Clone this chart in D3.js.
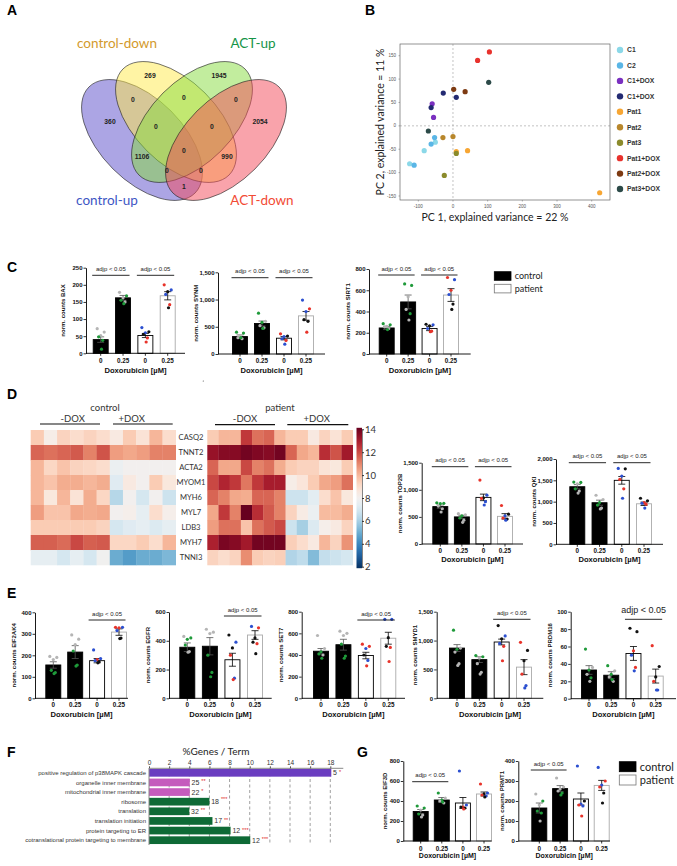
<!DOCTYPE html>
<html><head><meta charset="utf-8">
<script src="https://cdn.jsdelivr.net/npm/d3@7"></script>
<style>body{margin:0;background:#fff} svg{display:block}</style>
</head><body>
<svg id="fig" width="677" height="866"></svg>
<script>
// ---------------- DATA ----------------
const panelLetters = ["A","B","C","D","E","F","G"];

// Venn (panel A)
const vennSetNames = ["control-up","control-down","ACT-up","ACT-down"];
const vennCounts = [360,269,1945,2054, 0,0,0, 0,0, 1106,0,990, 0,0, 1];

// PCA (panel B)
const pcaGroups = ["C1","C2","C1+DOX","C1+DOX","Pat1","Pat2","Pat3","Pat1+DOX","Pat2+DOX","Pat3+DOX"];
const pcaPC1 = [[-83,-125,-51],[-112,-63,-53],[-60,-56],[-28,9.5,-63],[9.5,42,423],[-29,0],[9.5,-25],[105,71],[2,35],[103,-71]];
const pcaPC2 = [[-53,-81,-35],[-84,-39,-25],[47,18],[70,61,39],[-55,-53,-143],[-25,-23],[-59,-106],[158,140],[78,73],[93,-11]];
const pcaXTicks = [-100,0,100,200,300,400];
const pcaYTicks = [-150,-100,-50,0,50,100,150];

// Bar charts
const doseLabels = ["0","0.25","0","0.25"];
const groupLegend = ["control","patient"];

const BAX_mean = [40,162,52,168], BAX_sem = [8,7,6,12];
const BAX_pts = [[[72,"s"],[62,"s"],[52,"s"],[48,"g"],[38,"g"],[12,"g"]],[[178,"s"],[168,"g"],[162,"s"],[155,"g"],[150,"s"],[145,"g"]],[[75,"b"],[63,"k"],[60,"b"],[55,"k"],[45,"r"],[33,"r"]],[[200,"r"],[185,"b"],[180,"k"],[172,"b"],[142,"r"],[133,"k"]]];
const BAX_ticks = [0,50,100,150,200,250];

const SYNM_mean = [320,560,290,700], SYNM_sem = [30,45,30,80];
const SYNM_pts = [[[400,"g"],[385,"g"],[330,"s"],[300,"s"],[280,"s"],[300,"g"]],[[750,"g"],[600,"s"],[580,"g"],[520,"s"],[480,"s"],[470,"g"]],[[370,"r"],[330,"k"],[320,"b"],[280,"b"],[250,"r"],[180,"b"]],[[990,"b"],[830,"r"],[780,"b"],[630,"k"],[600,"k"],[400,"r"]]];
const SYNM_ticks = [0,500,1000,1500];

const SIRT1_mean = [245,490,240,555], SIRT1_sem = [15,65,20,60];
const SIRT1_pts = [[[285,"g"],[275,"g"],[260,"s"],[255,"s"],[240,"s"],[230,"g"]],[[660,"g"],[645,"g"],[540,"s"],[420,"s"],[380,"g"],[320,"s"]],[[280,"k"],[275,"b"],[265,"k"],[240,"b"],[215,"r"],[210,"r"]],[[720,"r"],[700,"b"],[600,"r"],[560,"b"],[470,"k"],[420,"k"]]];
const SIRT1_ticks = [0,200,400,600,800];

const TOP2B_mean = [690,500,860,510], TOP2B_sem = [30,30,60,50];
const TOP2B_pts = [[[760,"g"],[750,"g"],[745,"g"],[700,"s"],[650,"s"],[590,"s"]],[[560,"s"],[540,"s"],[520,"g"],[480,"g"],[440,"s"],[400,"s"]],[[1180,"r"],[900,"b"],[850,"k"],[840,"r"],[780,"b"],[720,"b"]],[[710,"r"],[550,"k"],[520,"b"],[480,"r"],[460,"k"],[440,"b"]]];
const TOP2B_ticks = [0,500,1000,1500];

const QKI_mean = [1350,975,1500,950], QKI_sem = [50,60,90,40];
const QKI_pts = [[[1460,"g"],[1450,"g"],[1420,"s"],[1300,"g"],[1250,"s"],[1200,"s"]],[[1150,"s"],[1050,"s"],[980,"g"],[920,"g"],[850,"s"],[830,"s"]],[[1780,"b"],[1770,"k"],[1600,"b"],[1520,"r"],[1300,"r"],[1080,"b"]],[[1080,"k"],[1020,"k"],[980,"r"],[960,"b"],[940,"r"],[850,"b"]]];
const QKI_ticks = [0,500,1000,1500,2000];

const EIF2AK4_mean = [155,215,175,308], EIF2AK4_sem = [15,30,10,15];
const EIF2AK4_pts = [[[195,"s"],[190,"s"],[180,"s"],[130,"g"],[120,"g"],[115,"g"]],[[295,"s"],[275,"s"],[250,"s"],[220,"g"],[155,"g"],[150,"g"]],[[225,"b"],[185,"b"],[180,"r"],[175,"b"],[170,"k"],[165,"k"]],[[330,"r"],[330,"b"],[328,"r"],[315,"b"],[280,"k"],[278,"k"]]];
const EIF2AK4_ticks = [0,100,200,300,400];

const EGFR_mean = [355,362,268,440], EGFR_sem = [30,60,45,30];
const EGFR_pts = [[[430,"s"],[420,"g"],[410,"g"],[370,"g"],[325,"s"],[320,"s"]],[[480,"s"],[460,"s"],[450,"s"],[300,"g"],[180,"g"],[150,"g"]],[[440,"k"],[390,"b"],[350,"k"],[300,"r"],[140,"b"],[130,"r"]],[[500,"b"],[490,"r"],[420,"k"],[390,"k"],[380,"r"],[310,"k"]]];
const EGFR_ticks = [0,200,400,600];

const SET7_mean = [435,495,395,555], SET7_sem = [25,50,30,55];
const SET7_pts = [[[580,"s"],[460,"s"],[430,"g"],[410,"g"],[400,"s"],[370,"g"]],[[620,"s"],[600,"s"],[580,"s"],[500,"g"],[390,"g"],[370,"g"]],[[500,"r"],[480,"r"],[460,"b"],[400,"k"],[350,"b"],[300,"r"]],[[730,"b"],[730,"b"],[560,"k"],[480,"k"],[470,"r"],[340,"r"]]];
const SET7_ticks = [0,200,400,600,800];

const SMYD1_mean = [870,670,975,540], SMYD1_sem = [60,50,50,130];
const SMYD1_pts = [[[1180,"g"],[870,"s"],[850,"g"],[800,"s"],[600,"s"],[570,"s"]],[[740,"g"],[720,"g"],[700,"s"],[600,"s"],[450,"s"],[420,"s"]],[[1260,"k"],[1080,"b"],[1030,"k"],[950,"b"],[900,"r"],[650,"r"]],[[970,"r"],[830,"k"],[650,"k"],[420,"r"],[220,"b"],[180,"b"]]];
const SMYD1_ticks = [0,500,1000,1500];

const PRDM16_mean = [33,27,52,26], PRDM16_sem = [5,4,8,8];
const PRDM16_pts = [[[57,"g"],[36,"s"],[33,"g"],[28,"s"],[24,"g"],[20,"s"]],[[38,"g"],[32,"s"],[28,"g"],[25,"s"],[20,"s"],[22,"g"]],[[81,"k"],[77,"k"],[55,"r"],[50,"b"],[36,"r"],[32,"b"]],[[61,"r"],[37,"k"],[25,"k"],[20,"r"],[10,"b"],[10,"b"]]];
const PRDM16_ticks = [0,20,40,60,80,100];

const EIF3D_mean = [295,410,380,470], EIF3D_sem = [20,25,55,20];
const EIF3D_pts = [[[350,"g"],[330,"g"],[310,"s"],[270,"g"],[260,"s"],[240,"s"]],[[480,"g"],[430,"s"],[410,"g"],[400,"s"],[380,"s"],[390,"g"]],[[700,"b"],[360,"b"],[340,"r"],[340,"k"],[330,"k"],[320,"r"]],[[570,"r"],[480,"b"],[470,"k"],[460,"r"],[450,"b"],[440,"k"]]];
const EIF3D_ticks = [0,200,400,600,800];

const PRMT1_mean = [165,262,210,278], PRMT1_sem = [25,15,30,25];
const PRMT1_pts = [[[235,"s"],[200,"g"],[180,"s"],[150,"g"],[140,"g"],[100,"s"]],[[315,"s"],[270,"s"],[260,"s"],[250,"s"],[240,"g"],[230,"g"]],[[375,"b"],[200,"k"],[185,"b"],[180,"r"],[175,"b"],[125,"r"]],[[368,"b"],[300,"r"],[280,"b"],[270,"r"],[240,"k"],[190,"k"]]];
const PRMT1_ticks = [0,100,200,300,400];

// Heatmap (panel D)
const heatGenes = ["CASQ2","TNNT2","ACTA2","MYOM1","MYH6","MYL7","LDB3","MYH7","TNNI3"];
const controlHeat = [
 [9.5,8.3,9.3,9.0,9.3,9.0, 8.5,9.5,8.8,10.0,9.0],
 [11.5,11.3,11.5,11.7,11.0,11.8, 10.5,10.3,10.5,11.0,11.0],
 [10.0,9.2,9.7,9.3,9.2,9.0, 7.7,8.0,8.0,8.0,8.0],
 [10.0,9.7,10.2,10.2,10.0,10.2, 7.3,8.5,8.0,9.5,8.6],
 [10.0,8.6,10.0,8.8,10.2,9.2, 6.3,8.0,7.0,8.0,6.8],
 [10.5,9.7,9.7,10.3,10.2,10.3, 8.0,8.2,7.5,9.0,8.2],
 [9.5,9.5,9.5,9.5,9.5,9.3, 7.0,7.3,7.5,7.2,7.5],
 [11.6,11.6,11.4,12.0,11.6,11.7, 9.2,9.2,9.5,9.0,10.0],
 [7.5,7.5,7.0,7.5,7.0,7.9, 5.0,4.6,5.0,5.0,5.3]];
const patientHeat = [
 [9.5,10.0,10.0,12.3,11.3,11.5,10.0, 9.5,9.5,8.5,9.3,8.8,9.5],
 [13.2,13.5,13.5,13.8,13.6,13.5,13.8, 11.5,10.3,10.0,12.5,11.8,13.0],
 [11.5,10.3,10.3,12.0,11.0,11.3,10.2, 9.5,9.3,9.3,8.8,8.6,9.5],
 [12.0,12.7,12.3,11.2,12.3,12.9,12.9, 8.3,8.7,9.5,10.3,10.5,11.3],
 [11.5,11.0,10.3,10.2,11.5,11.5,11.0, 6.8,6.8,7.4,9.0,9.7,8.6],
 [10.3,12.3,11.0,14.0,12.5,11.7,11.0, 9.3,8.4,7.7,9.9,9.9,10.2],
 [10.5,11.3,11.3,9.7,11.3,11.7,12.0, 6.8,6.0,7.2,8.2,8.5,9.3],
 [12.8,13.7,13.5,13.0,13.8,13.8,13.8, 9.4,9.0,8.5,10.0,9.3,10.7],
 [9.3,9.0,9.3,10.8,9.5,9.3,9.4, 6.2,6.5,5.4,6.6,6.8,7.0]];
const heatTicks = [2,4,6,8,10,12,14];

// GO terms (panel F)
const goTerms = ["positive regulation of p38MAPK cascade","organelle inner membrane","mitochondrial inner membrane","ribosome","translation","translation initiation","protein targeting to ER","cotranslational protein targeting to membrane"];
const goPct = [18.1,4.05,4.05,6.0,4.0,6.3,8.1,10.05];
const goCounts = [5,25,22,18,32,17,12,12];
const goStars = ["*","**","*","***","**","**","***","***"];
const goCategory = ["p38","membrane","membrane","translation","translation","translation","translation","translation"];
const goTicks = [0,2,4,6,8,10,12,14,16,18];

// ---------------- DRAWING ----------------
const SANS = "'Liberation Sans', Arial, sans-serif";
const HUM = "Lato, 'Open Sans', sans-serif";
const svg = d3.select("#fig").attr("font-family", SANS);
const dotColors = {g:"#1f9a3a", s:"#b5b5b5", k:"#111111", b:"#2b4fd0", r:"#e8332a"};

// panel letters
const panelPos = [[7,15],[365,15],[7,272],[7,399],[7,598],[7,757],[357,757]];
svg.selectAll("text.pl").data(panelLetters).join("text").attr("class","pl")
  .attr("x",(d,i)=>panelPos[i][0]).attr("y",(d,i)=>panelPos[i][1])
  .attr("font-size",14).attr("font-weight","bold").text(d=>d);

// stray dot present in the reference figure
svg.append("circle").attr("cx",203.3).attr("cy",381).attr("r",0.6).attr("fill","#555");

// ---------- Panel A: Venn ----------
(function(){
  const ell = [{cx:142,cy:140,rot:45,fill:"#5a4bc9"},{cx:176,cy:122,rot:45,fill:"#ffe94a"},
               {cx:192,cy:122,rot:-45,fill:"#86db3e"},{cx:226,cy:140,rot:-45,fill:"#f44858"}];
  const g = svg.append("g");
  g.selectAll("ellipse").data(ell).join("ellipse")
    .attr("cx",d=>d.cx).attr("cy",d=>d.cy).attr("rx",75).attr("ry",41)
    .attr("transform",d=>`rotate(${d.rot},${d.cx},${d.cy})`)
    .attr("fill",d=>d.fill).attr("fill-opacity",0.5).attr("stroke","#222").attr("stroke-width",0.6);
  const pos = [[110,122],[150,76],[219,76],[260,122],[133,100],[184,98],[236,100],[156,127],[212,127],[142,157],[184,151],[227,157],[167,171],[201,171],[184,187]];
  g.selectAll("text.vc").data(vennCounts).join("text").attr("class","vc")
    .attr("x",(d,i)=>pos[i][0]).attr("y",(d,i)=>pos[i][1]).attr("dy","0.35em")
    .attr("text-anchor","middle").attr("font-size",6.8).attr("font-weight","bold").attr("fill","#222").text(d=>d);
  const lab = [[107,200,"#3d56c4"],[117,43.5,"#d39a2c"],[253,43.5,"#159447"],[262,200,"#f24b34"]];
  g.selectAll("text.vl").data(vennSetNames).join("text").attr("class","vl")
    .attr("x",(d,i)=>lab[i][0]).attr("y",(d,i)=>lab[i][1]).attr("dy","0.35em")
    .attr("text-anchor","middle").attr("font-family",HUM).attr("font-size",13.5).attr("fill",(d,i)=>lab[i][2]).text(d=>d);
})();

// ---------- Panel B: PCA ----------
(function(){
  const g = svg.append("g");
  const x = d3.scaleLinear().domain([-100,400]).range([418.3,591.7]);
  const y = d3.scaleLinear().domain([-150,150]).range([196,55.7]);
  const L=400,R=610,T=44,B=200;
  g.append("line").attr("x1",x(0)).attr("x2",x(0)).attr("y1",T).attr("y2",B).attr("stroke","#999").attr("stroke-width",0.6).attr("stroke-dasharray","2,2");
  g.append("line").attr("x1",L).attr("x2",R).attr("y1",y(0)).attr("y2",y(0)).attr("stroke","#999").attr("stroke-width",0.6).attr("stroke-dasharray","2,2");
  g.append("rect").attr("x",L).attr("y",T).attr("width",R-L).attr("height",B-T).attr("fill","none").attr("stroke","#666").attr("stroke-width",0.7);
  g.selectAll("text.xt").data(pcaXTicks).join("text").attr("class","xt").attr("x",d=>x(d)).attr("y",207.5)
    .attr("text-anchor","middle").attr("font-size",4.5).attr("fill","#555").text(d=>d);
  g.selectAll("line.xt").data(pcaXTicks).join("line").attr("class","xt").attr("x1",d=>x(d)).attr("x2",d=>x(d)).attr("y1",B).attr("y2",B+1.5).attr("stroke","#666").attr("stroke-width",0.5);
  g.selectAll("text.yt").data(pcaYTicks).join("text").attr("class","yt").attr("x",396).attr("y",d=>y(d)).attr("dy","0.35em")
    .attr("text-anchor","end").attr("font-size",4.5).attr("fill","#555").text(d=>d);
  g.selectAll("line.yt").data(pcaYTicks).join("line").attr("class","yt").attr("x1",L-1.5).attr("x2",L).attr("y1",d=>y(d)).attr("y2",d=>y(d)).attr("stroke","#666").attr("stroke-width",0.5);
  g.append("text").attr("x",495).attr("y",217.5).attr("dy","0.35em").attr("text-anchor","middle").attr("font-family",HUM).attr("font-size",10.5).attr("fill","#222").text("PC 1, explained variance = 22 %");
  g.append("text").attr("transform","translate(380,122) rotate(-90)").attr("dy","0.35em").attr("text-anchor","middle").attr("font-family",HUM).attr("font-size",10.5).attr("fill","#222").text("PC 2, explained variance = 11 %");
  const cols = ["#8bd8e8","#5ab6e6","#7a30c0","#232a72","#f7a633","#b8872c","#8b8b2c","#e8322d","#7d3a12","#2c4a48"];
  pcaGroups.forEach((grp,i)=>{
    const pts = pcaPC1[i].map((v,j)=>[v,pcaPC2[i][j]]);
    g.selectAll(null).data(pts).join("circle").attr("cx",d=>x(d[0])).attr("cy",d=>y(d[1])).attr("r",2.6).attr("fill",cols[i]);
  });
  const lg = g.append("g");
  lg.selectAll("circle").data(pcaGroups).join("circle").attr("cx",620).attr("cy",(d,i)=>50+i*15.45).attr("r",3.2).attr("fill",(d,i)=>cols[i]);
  lg.selectAll("text").data(pcaGroups).join("text").attr("x",627).attr("y",(d,i)=>50+i*15.45).attr("dy","0.35em")
    .attr("font-size",6.8).attr("font-weight","bold").attr("fill","#333").text(d=>d);
})();

// ---------- Bar chart helper ----------
const jit = [-3.5,3.5,0,-2,2,0.8];
function barChart(name, mean, sem, pts, ticks, o){
  const g = svg.append("g");
  const y = d3.scaleLinear().domain([0, ticks[ticks.length-1]]).range([o.y0, o.yTop]);
  const x = d3.scalePoint().domain([0,1,2,3]).range([o.x1, o.x4]);
  const bw = 15;
  const fs = o.fs || 6;
  g.selectAll("rect").data(mean).join("rect")
    .attr("x",(d,i)=>x(i)-bw/2).attr("y",d=>y(d)).attr("width",bw).attr("height",d=>o.y0-y(d))
    .attr("fill",(d,i)=>i<2?"#000":"#fff").attr("stroke",(d,i)=>i===3?"#aaa":"#000").attr("stroke-width",0.9);
  const eb = g.selectAll("g.eb").data(mean).join("g").attr("class","eb");
  eb.append("line").attr("x1",(d,i)=>x(i)).attr("x2",(d,i)=>x(i)).attr("y1",(d,i)=>y(d-sem[i])).attr("y2",(d,i)=>y(d+sem[i]))
    .attr("stroke",(d,i)=>i<2?"#555":"#000").attr("stroke-width",0.8);
  eb.append("line").attr("x1",(d,i)=>x(i)-3.5).attr("x2",(d,i)=>x(i)+3.5).attr("y1",(d,i)=>y(d+sem[i])).attr("y2",(d,i)=>y(d+sem[i]))
    .attr("stroke",(d,i)=>i<2?"#555":"#000").attr("stroke-width",0.8);
  eb.append("line").attr("x1",(d,i)=>x(i)-3.5).attr("x2",(d,i)=>x(i)+3.5).attr("y1",(d,i)=>y(d-sem[i])).attr("y2",(d,i)=>y(d-sem[i]))
    .attr("stroke",(d,i)=>i<2?"#555":"#000").attr("stroke-width",0.8);
  pts.forEach((grp,i)=>{
    g.selectAll(null).data(grp).join("circle")
      .attr("cx",(d,j)=>x(i)+jit[j%jit.length]).attr("cy",d=>y(d[0])).attr("r",1.6).attr("fill",d=>dotColors[d[1]]);
  });
  const ya = g.append("g").attr("transform",`translate(${o.ax},0)`)
    .call(d3.axisLeft(y).tickValues(ticks).tickSize(2.5).tickPadding(1).tickSizeOuter(0));
  ya.select(".domain").attr("stroke","#000").attr("stroke-width",0.9);
  ya.selectAll(".tick line").attr("stroke","#000").attr("stroke-width",0.8);
  ya.selectAll(".tick text").attr("font-size",fs).attr("font-weight","bold").attr("font-family",SANS).attr("fill","#111");
  g.append("line").attr("x1",o.ax).attr("x2",o.xEnd).attr("y1",o.y0).attr("y2",o.y0).attr("stroke","#000").attr("stroke-width",0.9);
  g.selectAll("line.xt").data(doseLabels).join("line").attr("class","xt").attr("x1",(d,i)=>x(i)).attr("x2",(d,i)=>x(i)).attr("y1",o.y0).attr("y2",o.y0+2.5).attr("stroke","#000").attr("stroke-width",0.8);
  g.selectAll("text.xt").data(doseLabels).join("text").attr("class","xt").attr("x",(d,i)=>x(i)).attr("y",o.tickY).attr("dy","0.35em")
    .attr("text-anchor","middle").attr("font-size",fs+0.3).attr("font-weight","bold").attr("fill","#111").text(d=>d);
  g.append("text").attr("x",(o.ax+o.xEnd)/2).attr("y",o.titleY).attr("dy","0.35em").attr("text-anchor","middle")
    .attr("font-size",o.tfs||7.6).attr("font-weight","bold").attr("fill","#111").text("Doxorubicin [µM]");
  g.append("text").attr("transform",`translate(${o.ax+(o.labDx||-21)},${(o.y0+o.yTop)/2}) rotate(-90)`).attr("dy","0.35em")
    .attr("text-anchor","middle").attr("font-size",fs).attr("font-weight","bold").attr("fill","#111").text("norm. counts "+name);
  (o.sig||[]).forEach(p=>{
    const x1 = x(p[0])-bw/2-1, x2 = x(p[1])+bw/2-1;
    g.append("line").attr("x1",x1).attr("x2",x2).attr("y1",o.sigY).attr("y2",o.sigY).attr("stroke","#111").attr("stroke-width",0.9);
    g.append("text").attr("x",(x1+x2)/2).attr("y",o.sigY-(o.sfs?6:4.5)).attr("text-anchor","middle")
      .attr("font-size",o.sfs||6).attr("fill","#222").text("adjp < 0.05");
  });
}

// Panel C
barChart("BAX",BAX_mean,BAX_sem,BAX_pts,BAX_ticks,{ax:86,y0:353.3,yTop:267.7,x1:100.7,x4:167.7,xEnd:185,sigY:275.3,tickY:360.7,titleY:370,labDx:-23,sig:[[0,1],[2,3]]});
barChart("SYNM",SYNM_mean,SYNM_sem,SYNM_pts,SYNM_ticks,{ax:218,y0:354,yTop:272.3,x1:240,x4:306,xEnd:325,sigY:277.7,tickY:360.7,titleY:370,labDx:-22,sig:[[0,1],[2,3]]});
barChart("SIRT1",SIRT1_mean,SIRT1_sem,SIRT1_pts,SIRT1_ticks,{ax:369,y0:354,yTop:269,x1:386.7,x4:451,xEnd:470.7,sigY:275,tickY:360.7,titleY:370,labDx:-21,sig:[[0,1],[2,3]]});
// Panel D bars
barChart("TOP2B",TOP2B_mean,TOP2B_sem,TOP2B_pts,TOP2B_ticks,{ax:421.7,y0:544,yTop:462.7,x1:440.3,x4:505,xEnd:523,sigY:466.7,tickY:550.7,titleY:559.3,labDx:-22,sig:[[0,1],[2,3]]});
barChart("QKI",QKI_mean,QKI_sem,QKI_pts,QKI_ticks,{ax:556,y0:544.3,yTop:459,x1:577.3,x4:644,xEnd:663,sigY:462.7,tickY:550.7,titleY:559.3,labDx:-22,sig:[[0,1],[2,3]]});
// Panel E
const eCommon = {y0:698.3,tickY:705,titleY:714.3,sig:[[2,3]]};
barChart("EIF2AK4",EIF2AK4_mean,EIF2AK4_sem,EIF2AK4_pts,EIF2AK4_ticks,Object.assign({},eCommon,{ax:35,yTop:612.3,x1:53.3,x4:119,xEnd:128,sigY:620}));
barChart("EGFR",EGFR_mean,EGFR_sem,EGFR_pts,EGFR_ticks,Object.assign({},eCommon,{ax:169,yTop:612,x1:187.3,x4:255,xEnd:271.7,sigY:616}));
barChart("SET7",SET7_mean,SET7_sem,SET7_pts,SET7_ticks,Object.assign({},eCommon,{ax:301.7,yTop:611.7,x1:321,x4:388.3,xEnd:405,sigY:620}));
barChart("SMYD1",SMYD1_mean,SMYD1_sem,SMYD1_pts,SMYD1_ticks,Object.assign({},eCommon,{ax:436.7,yTop:611.7,x1:457,x4:524,xEnd:543.3,sigY:619.3,labDx:-22}));
barChart("PRDM16",PRDM16_mean,PRDM16_sem,PRDM16_pts,PRDM16_ticks,Object.assign({},eCommon,{ax:570.7,y0:698.7,yTop:611.7,x1:589,x4:655.7,xEnd:676,sigY:619.3,sfs:9}));
// Panel G
barChart("EIF3D",EIF3D_mean,EIF3D_sem,EIF3D_pts,EIF3D_ticks,{ax:403.3,y0:841,yTop:761,x1:420.7,x4:484,xEnd:491.7,sigY:781.7,tickY:848.3,titleY:856,labDx:-18,tfs:7,sig:[[0,1]]});
barChart("PRMT1",PRMT1_mean,PRMT1_sem,PRMT1_pts,PRMT1_ticks,{ax:518.3,y0:841,yTop:761,x1:539.3,x4:601.7,xEnd:610,sigY:770,tickY:848.3,titleY:856,labDx:-16,tfs:7,sig:[[0,1]]});

// legends (C and G)
function groupLeg(x0,y0,h,gap,fs){
  const g = svg.append("g");
  g.selectAll("rect").data(groupLegend).join("rect").attr("x",x0).attr("y",(d,i)=>y0+i*gap).attr("width",16.7).attr("height",h)
    .attr("fill",(d,i)=>i?"#fff":"#000").attr("stroke",(d,i)=>i?"#777":"#000").attr("stroke-width",0.8);
  g.selectAll("text").data(groupLegend).join("text").attr("x",x0+20.5).attr("y",(d,i)=>y0+i*gap+h/2).attr("dy","0.35em")
    .attr("font-family",HUM).attr("font-size",fs).attr("fill","#222").text(d=>d);
}
groupLeg(494.3,271.7,8.6,12.6,9);
groupLeg(619.3,761.7,10,13.3,11);

// ---------- Panel D: heatmap ----------
(function(){
  const g = svg.append("g");
  const color = d3.scaleSequential(d3.interpolateRdBu).domain([14,2]);
  const rows = d3.scaleBand().domain(heatGenes).range([430,565]);
  function hm(mat,x0,x1){
    const cols = d3.scaleBand().domain(d3.range(mat[0].length)).range([x0,x1]);
    mat.forEach((row,r)=>{
      g.selectAll(null).data(row).join("rect").attr("x",(d,c)=>cols(c)).attr("y",rows(heatGenes[r]))
        .attr("width",cols.bandwidth()+0.3).attr("height",rows.bandwidth()+0.3).attr("fill",d=>color(d));
    });
    return cols;
  }
  hm(controlHeat,30.7,175.7);
  hm(patientHeat,207.3,352.7);
  g.selectAll("text.gn").data(heatGenes).join("text").attr("class","gn").attr("x",191).attr("y",d=>rows(d)+rows.bandwidth()/2).attr("dy","0.35em")
    .attr("text-anchor","middle").attr("font-family",HUM).attr("font-size",7.6).attr("fill","#333").text(d=>d);
  const hdr = [["control",105,408],["patient",280,408],["-DOX",72.7,418.5],["+DOX",131.7,418.5],["-DOX",245,419],["+DOX",316.7,419]];
  g.selectAll("text.hd").data(hdr).join("text").attr("class","hd").attr("x",d=>d[1]).attr("y",d=>d[2]).attr("dy","0.35em")
    .attr("text-anchor","middle").attr("font-family",HUM).attr("font-size",9.5).attr("fill","#333").text(d=>d[0]);
  const lines = [[40,100,424],[113,172.7,424],[215,275,424.7],[287.3,348.3,424.7]];
  g.selectAll("line.hl").data(lines).join("line").attr("class","hl").attr("x1",d=>d[0]).attr("x2",d=>d[1]).attr("y1",d=>d[2]).attr("y2",d=>d[2]).attr("stroke","#111").attr("stroke-width",1.2);
  const cy = d3.scaleLinear().domain([2,14]).range([566.7,429.3]);
  const defs = svg.append("defs");
  const lgd = defs.append("linearGradient").attr("id","cb").attr("x1",0).attr("x2",0).attr("y1",1).attr("y2",0);
  d3.range(0,1.001,0.05).forEach(t=>lgd.append("stop").attr("offset",t).attr("stop-color",color(2+12*t)));
  g.append("rect").attr("x",356.5).attr("y",cy(14)-1.5).attr("width",5.5).attr("height",cy(2)-cy(14)+3).attr("fill","url(#cb)");
  const ca = g.append("g").attr("transform","translate(362,0)").call(d3.axisRight(cy).tickValues(heatTicks).tickSize(2).tickPadding(1).tickSizeOuter(0));
  ca.select(".domain").attr("stroke","#333").attr("stroke-width",0.6);
  ca.selectAll(".tick line").attr("stroke","#333");
  ca.selectAll(".tick text").attr("font-family",HUM).attr("font-size",9.5).attr("fill","#333");
})();

// ---------- Panel F ----------
(function(){
  const g = svg.append("g");
  const x = d3.scaleLinear().domain([0,18]).range([149,330.3]);
  const yb = d3.scaleBand().domain(goTerms).range([768,845]).paddingInner(0.2).paddingOuter(0.1);
  const catCol = {p38:"#6a3dc0", membrane:"#c55bbd", translation:"#0e6a36"};
  g.selectAll("line.gr").data(goTicks.slice(1)).join("line").attr("class","gr").attr("x1",d=>x(d)).attr("x2",d=>x(d)).attr("y1",768).attr("y2",845)
    .attr("stroke","#777").attr("stroke-width",0.7).attr("stroke-dasharray","3,2.5");
  g.selectAll("rect").data(goPct).join("rect").attr("x",x(0)).attr("y",(d,i)=>yb(goTerms[i])).attr("width",d=>x(d)-x(0)).attr("height",yb.bandwidth())
    .attr("fill",(d,i)=>catCol[goCategory[i]]);
  const ax = g.append("g").attr("transform","translate(0,768.3)").call(d3.axisTop(x).tickValues(goTicks).tickSize(2).tickPadding(1.5).tickSizeOuter(0));
  ax.select(".domain").attr("stroke","#888").attr("stroke-width",1).attr("d","M149,0H343.3");
  ax.selectAll(".tick line").attr("stroke","#555");
  ax.selectAll(".tick text").attr("font-size",6.5).attr("fill","#333").attr("font-family",SANS);
  g.append("line").attr("x1",149).attr("x2",149).attr("y1",768).attr("y2",845).attr("stroke","#888").attr("stroke-width",1);
  g.selectAll("text.tl").data(goTerms).join("text").attr("class","tl").attr("x",146).attr("y",d=>yb(d)+yb.bandwidth()/2).attr("dy","0.35em")
    .attr("text-anchor","end").attr("font-size",6).attr("fill","#333").text(d=>d);
  const lbl = g.selectAll("text.cl").data(goCounts).join("text").attr("class","cl")
    .attr("x",(d,i)=>x(goPct[i])+1.8).attr("y",(d,i)=>yb(goTerms[i])+yb.bandwidth()/2).attr("dy","0.35em").attr("font-size",7).attr("fill","#333");
  lbl.append("tspan").text(d=>d+" ");
  lbl.append("tspan").attr("fill","#e0261d").attr("font-size",5.5).attr("dy",(d,i)=>goCounts[i]===18?-3.5:-1.5).text((d,i)=>goStars[i]);
  g.append("text").attr("x",216).attr("y",751.7).attr("dy","0.35em").attr("text-anchor","middle").attr("font-family",HUM).attr("font-size",10).attr("fill","#222").text("%Genes / Term");
})();
</script></body></html>
